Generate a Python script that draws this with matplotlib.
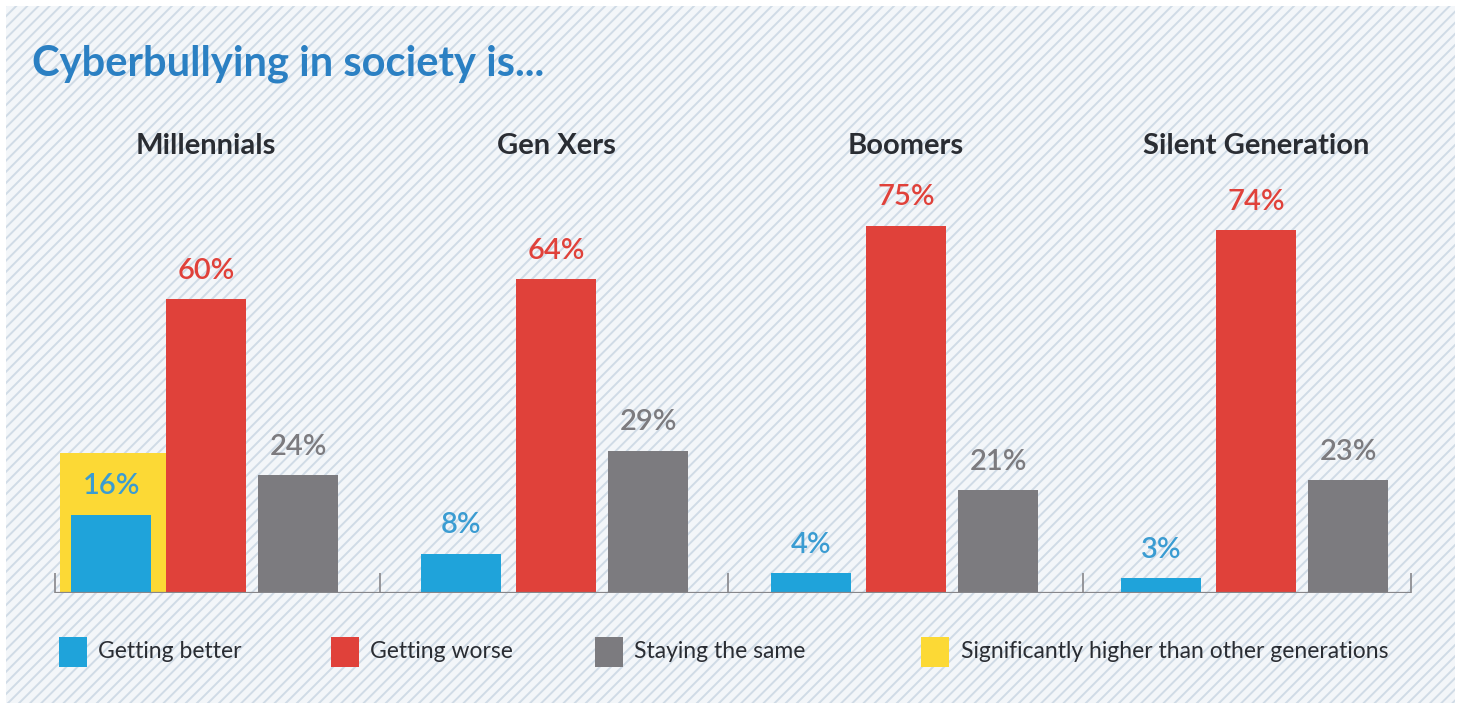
import matplotlib.pyplot as plt
from matplotlib.patches import Rectangle

# данные
generations = ["Millennials", "Gen Xers", "Boomers", "Silent Generation"]
better = [16, 8, 4, 3]
worse = [60, 64, 75, 74]
same = [24, 29, 21, 23]
series_names = ["Getting better", "Getting worse", "Staying the same",
                "Significantly higher than other generations"]
highlight_group = 0      # Millennials, "Getting better"
highlight_height = 28.6

BLUE = "#1fa3da"
RED = "#e0413a"
GRAY = "#7c7b7f"
YELLOW = "#fcd935"
TITLE_BLUE = "#2b80c3"
TEXT_DARK = "#2a2d33"

W, H = 1462, 707
plt.rcParams["hatch.linewidth"] = 1.4
fig = plt.figure(figsize=(W / 100, H / 100), dpi=100)
fig.patch.set_facecolor("white")

# фон в косую полоску
panel = Rectangle((6 / W, 4 / H), 1449 / W, 697 / H, transform=fig.transFigure,
                  facecolor="#f3f6f9", edgecolor="#d0dbe6", hatch="///", lw=0, zorder=-10)
fig.patches.append(panel)

ax = fig.add_axes([0, 1 - 593 / H, 1, 490 / H])
ax.set_facecolor("none")
ax.set_xlim(-206 / 350, (W - 206) / 350)
ax.set_ylim(0, 100)
ax.axis("off")

x = list(range(len(generations)))
bw = 0.229
off_b, off_g = -0.271, 0.263

# подсветка значимого значения
ax.bar(highlight_group - 0.417, highlight_height, width=0.303, align="edge",
       color=YELLOW, zorder=1)

bars_b = ax.bar([i + off_b for i in x], better, width=bw, color=BLUE, zorder=2)
bars_w = ax.bar(x, worse, width=bw, color=RED, zorder=2)
bars_s = ax.bar([i + off_g for i in x], same, width=bw, color=GRAY, zorder=2)

lab_font = ["Lato", "DejaVu Sans"]
for bars, vals, col in [(bars_b, better, "#3a9cd2"), (bars_w, worse, RED), (bars_s, same, GRAY)]:
    for b, v in zip(bars, vals):
        ax.annotate(f"{v}%", (b.get_x() + b.get_width() / 2, v), xytext=(0, 20.5),
                    textcoords="offset points", ha="center", va="center",
                    fontsize=21, fontweight="semibold", color=col, family=lab_font, zorder=3)

for i, g in enumerate(generations):
    ax.text(i, 91.2, g, ha="center", va="center", fontsize=21, fontweight="bold",
            color=TEXT_DARK, family=lab_font)

# базовая линия и разделители
dividers = [-0.431, 0.497, 1.491, 2.506, 3.443]
ax.hlines(0, dividers[0], dividers[-1], color="#86868a", lw=1.6, zorder=4)
ax.vlines(dividers, 0, 4.1, color="#86868a", lw=1.2, zorder=4)

fig.text(32 / W, 1 - 64 / H, "Cyberbullying in society is...", fontsize=30,
         fontweight="bold", color=TITLE_BLUE, family=lab_font, va="center")

# легенда (вручную, позиции как в оригинале)
leg_sq = [59, 331, 595, 921]
leg_txt = [98, 370, 634, 961]
for sx, tx, col, name in zip(leg_sq, leg_txt, [BLUE, RED, GRAY, YELLOW], series_names):
    fig.patches.append(Rectangle((sx / W, 1 - 667 / H), 28 / W, 30 / H,
                                 transform=fig.transFigure, color=col, lw=0))
    fig.text(tx / W, 1 - 652 / H, name, fontsize=16.5, color=TEXT_DARK,
             family=lab_font, va="center")

fig.savefig("out.png", dpi=100)
